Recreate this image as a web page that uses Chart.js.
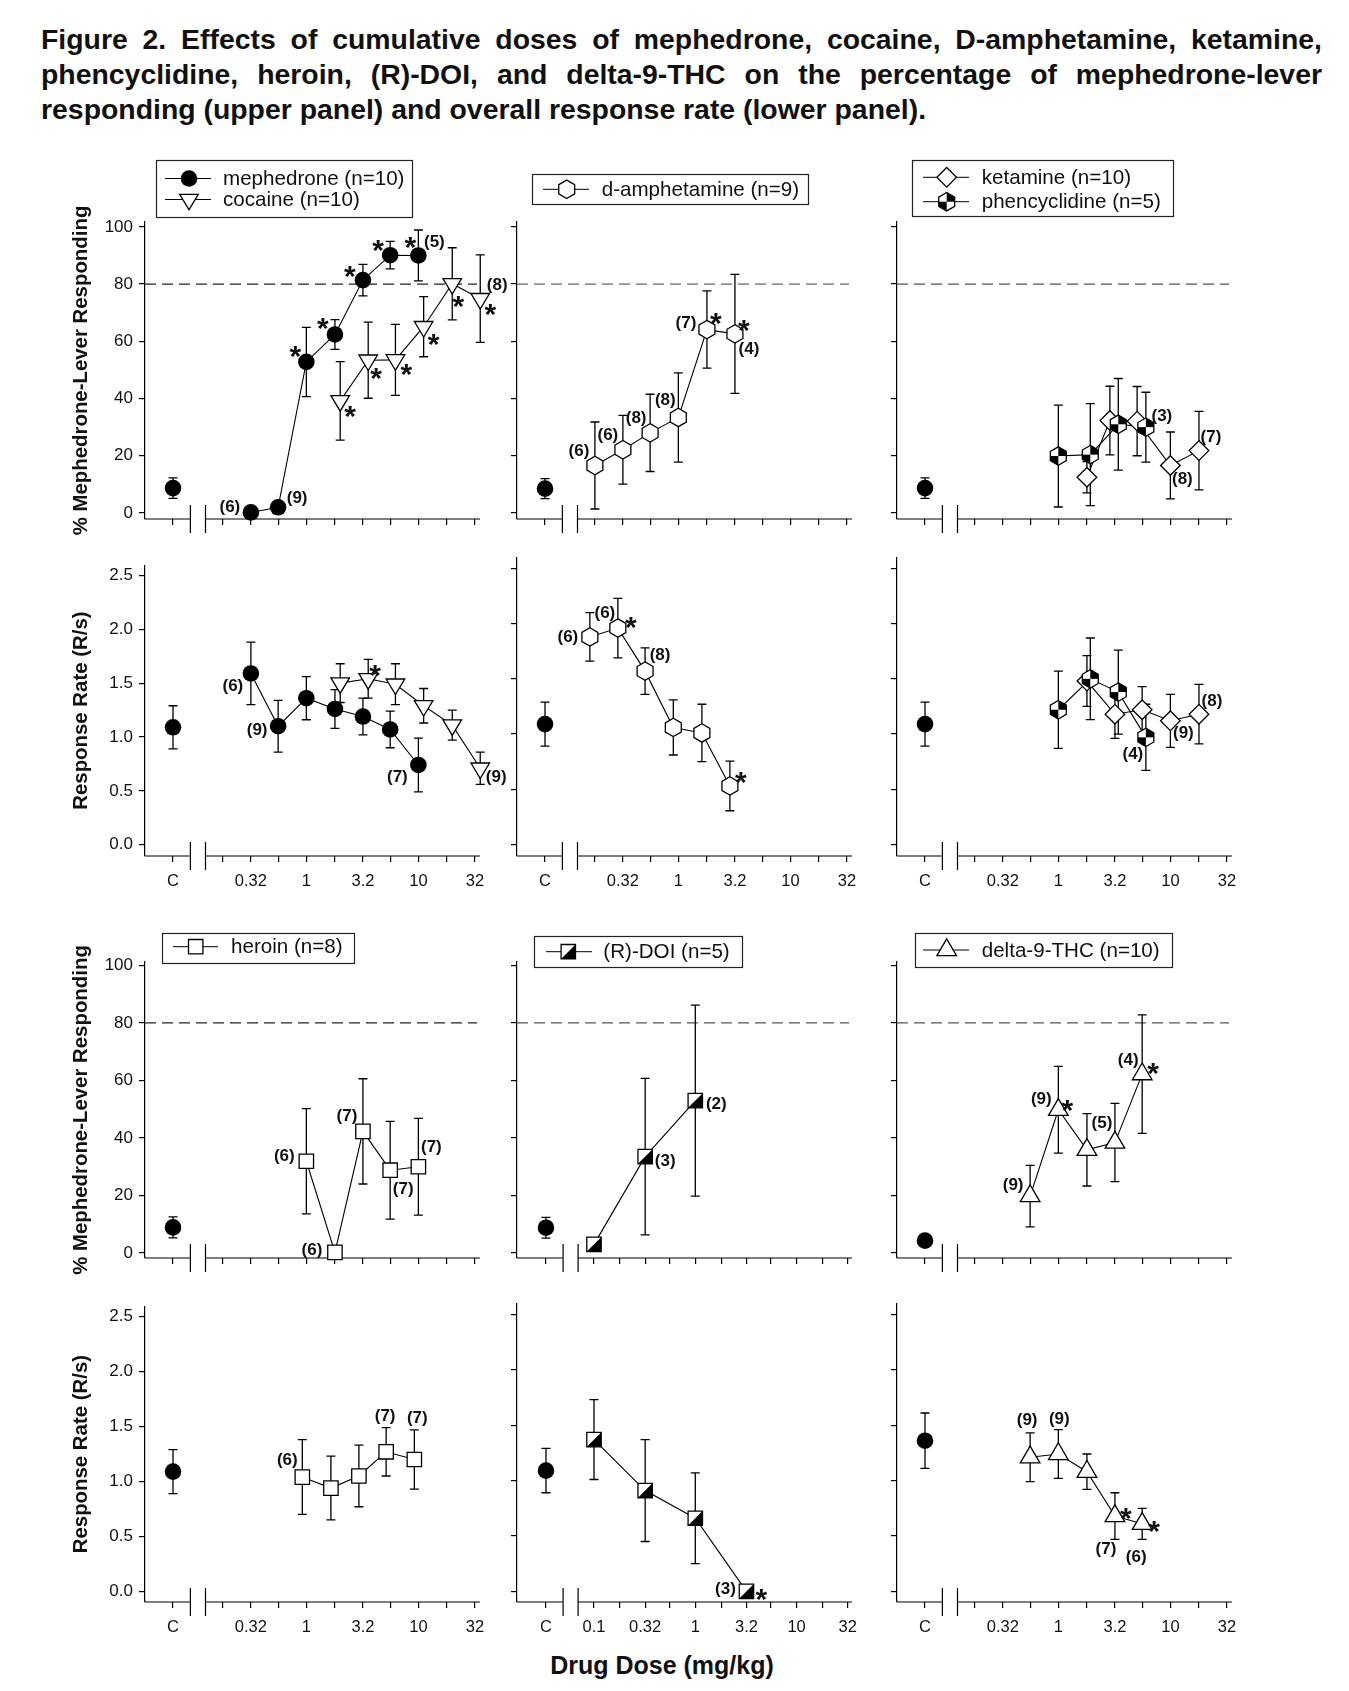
<!DOCTYPE html>
<html><head><meta charset="utf-8">
<script src="https://cdn.jsdelivr.net/npm/chart.js@4.4.1/dist/chart.umd.min.js"></script>
<style>
html,body{margin:0;padding:0;background:#fff;}
body{width:1349px;height:1691px;position:relative;overflow:hidden;font-family:"Liberation Sans",Arial,Helvetica,sans-serif;color:#111;}
#title{position:absolute;left:41px;top:22px;width:1281px;font-weight:bold;font-size:28.4px;line-height:35px;}
#title .j{text-align:justify;text-align-last:justify;}
#xlabel{position:absolute;left:462px;width:400px;top:1650px;text-align:center;font-weight:bold;font-size:25px;line-height:30px;}
canvas{position:absolute;}
</style></head><body>
<div id="title"><div class="j">Figure 2. Effects of cumulative doses of mephedrone, cocaine, D-amphetamine, ketamine,</div><div class="j">phencyclidine, heroin, (R)-DOI, and delta-9-THC on the percentage of mephedrone-lever</div><div>responding (upper panel) and overall response rate (lower panel).</div></div>
<div id="xlabel">Drug Dose (mg/kg)</div>
<script>
// ---------------- DATA ----------------
const stdTickDoses = [0.18, 0.32, 0.56, 1, 1.8, 3.2, 5.6, 10, 18, 32];
const stdTickLabels = ['C', '', '0.32', '', '1', '', '3.2', '', '10', '', '32'];
const doiTickDoses = [0.1, 0.18, 0.32, 0.56, 1, 1.8, 3.2, 5.6, 10, 18, 32];
const doiTickLabels = ['C', '0.1', '', '0.32', '', '1', '', '3.2', '', '10', '', '32'];
const pctTicks = [0, 20, 40, 60, 80, 100];
const rateTicks = [0, 0.5, 1, 1.5, 2, 2.5];
const criterionPct = 80;

// control (C) values per column: mephedrone/cocaine, amphetamine, ketamine/PCP, heroin, DOI, THC
const ctrlPct = [8.7, 8.5, 8.7, 8.9, 8.8, 4.3];
const ctrlPctErr = [3.6, 3.5, 3.6, 3.65, 3.6, 0];
const ctrlRate = [1.09, 1.09, 1.09, 1.09, 1.09, 1.36];
const ctrlRateErr = [0.20, 0.20, 0.20, 0.20, 0.20, 0.25];

const mephDose = [0.32, 0.56, 1, 1.8, 3.2, 5.6, 10];
const mephPct = [0.2, 2.0, 52.8, 62.4, 81.4, 90.1, 90.0];
const mephPctErr = [0, 0, 12.1, 5.2, 5.5, 4.8, 8.9];
const mephRate = [1.59, 1.10, 1.36, 1.26, 1.19, 1.07, 0.74];
const mephRateErr = [0.29, 0.24, 0.20, 0.18, 0.17, 0.17, 0.25];

const cocDose = [1.8, 3.2, 5.6, 10, 18, 32];
const cocPct = [39.2, 53.4, 53.5, 65.1, 80.1, 74.9];
const cocPctErr = [13.7, 13.3, 12.4, 10.5, 12.6, 15.3];
const cocRate = [1.50, 1.54, 1.49, 1.29, 1.11, 0.71];
const cocRateErr = [0.18, 0.18, 0.19, 0.16, 0.14, 0.15];

const amphDose = [0.18, 0.32, 0.56, 1, 1.8, 3.2];
const amphPct = [16.6, 22.1, 28.0, 33.4, 64.1, 62.6];
const amphPctErr = [15.2, 12.0, 13.5, 15.6, 13.5, 20.8];
const amphRate = [1.88, 1.96, 1.57, 1.06, 1.01, 0.53];
const amphRateErr = [0.22, 0.27, 0.21, 0.25, 0.26, 0.225];

const ketDose = [1.8, 3.2, 5.6, 10, 18];
const ketPct = [12.5, 32.3, 32.1, 16.6, 21.8];
const ketPctErr = [5.5, 12.0, 12.1, 11.7, 13.7];
const ketRate = [1.48, 1.18, 1.22, 1.12, 1.18];
const ketRateErr = [0.23, 0.22, 0.21, 0.24, 0.27];

const pcpDose = [1, 1.8, 3.2, 5.6];
const pcpPct = [19.9, 20.4, 31.0, 30.0];
const pcpPctErr = [17.8, 17.8, 16.0, 12.2];
const pcpRate = [1.22, 1.50, 1.38, 0.97];
const pcpRateErr = [0.35, 0.37, 0.38, 0.30];

const herDose = [1, 1.8, 3.2, 5.6, 10];
const herPct = [31.9, 0.2, 42.3, 28.8, 30.0];
const herPctErr = [18.3, 0, 18.3, 17.0, 16.8];
const herRate = [1.04, 0.94, 1.05, 1.27, 1.20];
const herRateErr = [0.34, 0.29, 0.28, 0.22, 0.27];

const doiDose = [0.1, 0.32, 1, 3.2];
const doiPct = [3.0, 33.5, 53.0];
const doiPctErr = [0, 27.2, 33.2];
const doiRate = [1.37, 0.91, 0.66, 0.0];
const doiRateErr = [0.36, 0.46, 0.41, 0];

const thcDose = [0.56, 1, 1.8, 3.2, 5.6];
const thcPct = [19.8, 49.8, 35.9, 38.4, 62.2];
const thcPctErr = [10.7, 15.1, 12.6, 13.6, 20.6];
const thcRate = [1.21, 1.24, 1.08, 0.68, 0.61];
const thcRateErr = [0.22, 0.22, 0.16, 0.21, 0.14];

// ---------------- LAYOUT / STYLE ----------------
const FONT = '"Liberation Sans", Arial, Helvetica, sans-serif';
const XSTD = {min: -1.44, max: 1.55, ctrl: -1.19, brk: [-1.035, -0.90], doses: stdTickDoses, labels: stdTickLabels};
const XDOI = {min: -1.76, max: 1.547, ctrl: -1.474, brk: [-1.305, -1.157], doses: doiTickDoses, labels: doiTickLabels};
const ROWS = {
  Au: {canvasTop: 150, top: 222, bottom: 519, yMin: -2.1, yMax: 101.7, kind: 'pct'},
  Al: {canvasTop: 549, top: 558, bottom: 856, yMin: -0.105, yMax: 2.595, kind: 'rate'},
  Bu: {canvasTop: 925, top: 962, bottom: 1258, yMin: -1.74, yMax: 101.2, kind: 'pct'},
  Bl: {canvasTop: 1290, top: 1304, bottom: 1602, yMin: -0.096, yMax: 2.594, kind: 'rate'}
};
const COLS = [145, 517, 897];
const PLOT_W = 335, AXIS_W = 85, RIGHT_PAD = 40, XAXIS_H = 50;

const PANELS = [
  {row: 'Au', col: 0, x: XSTD, ci: 0, dash: '#222',
   series: [
     {marker: 'circle', dose: mephDose, y: mephPct, e: mephPctErr,
      notes: [[0,'(6)',-21,-5],[1,'(9)',19,-9],[2,'*',-11,-13],[3,'*',-12,-13],[4,'*',-13,-11],[5,'*',-12,-12],[6,'*',-8,-15],[6,'(5)',16,-13]]},
     {marker: 'triDown', dose: cocDose, y: cocPct, e: cocPctErr, dodge: [0.047,0.047,0.047,0.047,0.047,0.047],
      notes: [[0,'*',10,8],[1,'*',8,11],[2,'*',11,7],[3,'*',10,10],[4,'*',6,15],[5,'*',10,8],[5,'(8)',17,-13]]}],
   legend: {x: 156, y: 160, w: 256, h: 57, lx: [165, 211], mx: 189, tx: 223,
     items: [{m: 'circle', label: 'mephedrone (n=10)', y: 178.5}, {m: 'triDown', label: 'cocaine (n=10)', y: 199.5}]}},
  {row: 'Al', col: 0, x: XSTD, ci: 0,
   series: [
     {marker: 'circle', dose: mephDose, y: mephRate, e: mephRateErr, notes: [[0,'(6)',-18,13],[1,'(9)',-21,4],[6,'(7)',-21,12]]},
     {marker: 'triDown', dose: cocDose, y: cocRate, e: cocRateErr, dodge: [0.047,0.047,0.047,0.047,0.047,0.047],
      notes: [[1,'*',7,-11],[5,'(9)',16,9]]}]},
  {row: 'Au', col: 1, x: XSTD, ci: 1, dash: '#666',
   series: [{marker: 'hex', dose: amphDose, y: amphPct, e: amphPctErr,
      notes: [[0,'(6)',-16,-14],[1,'(6)',-15,-14],[2,'(8)',-14,-15],[3,'(8)',-13,-17],[4,'(7)',-21,-6],[4,'*',9,-14],[5,'*',9,-11],[5,'(4)',14,15]]}],
   legend: {x: 532, y: 174, w: 276, h: 30, lx: [543, 589], mx: 566.7, tx: 601.7,
     items: [{m: 'hex', label: 'd-amphetamine (n=9)', y: 189.3}]}},
  {row: 'Al', col: 1, x: XSTD, ci: 1,
   series: [{marker: 'hex', dose: amphDose, y: amphRate, e: amphRateErr, dodge: [-0.045,-0.045,-0.045,-0.045,-0.045,-0.045],
      notes: [[0,'(6)',-22,0],[1,'(6)',-13,-15],[1,'*',13,-8],[2,'(8)',15,-16],[5,'*',11,-11]]}]},
  {row: 'Au', col: 2, x: XSTD, ci: 2, dash: '#555',
   series: [
     {marker: 'diamond', dose: ketDose, y: ketPct, e: ketPctErr, dodge: [0,-0.045,-0.045,0,0], notes: [[3,'(8)',12,14],[4,'(7)',12,-13]]},
     {marker: 'hexQuarter', dose: pcpDose, y: pcpPct, e: pcpPctErr, dodge: [0,0.03,0.03,0.033], notes: [[3,'(3)',16,-11]]}],
   legend: {x: 912, y: 160, w: 261, h: 56, lx: [923, 969], mx: 946.7, tx: 981.7,
     items: [{m: 'diamond', label: 'ketamine (n=10)', y: 177.3}, {m: 'hexQuarter', label: 'phencyclidine (n=5)', y: 201.7}]}},
  {row: 'Al', col: 2, x: XSTD, ci: 2,
   series: [
     {marker: 'diamond', dose: ketDose, y: ketRate, e: ketRateErr, notes: [[3,'(9)',13,13],[4,'(8)',13,-13]]},
     {marker: 'hexQuarter', dose: pcpDose, y: pcpRate, e: pcpRateErr, dodge: [0,0.03,0.03,0.033], notes: [[3,'(4)',-13,17]]}]},
  {row: 'Bu', col: 0, x: XSTD, ci: 3, dash: '#222',
   series: [{marker: 'square', dose: herDose, y: herPct, e: herPctErr,
      notes: [[0,'(6)',-22,-5],[1,'(6)',-23,-2],[2,'(7)',-16,-15],[3,'(7)',13,19],[4,'(7)',13,-19]]}],
   legend: {x: 162, y: 933, w: 192, h: 30, lx: [173, 218], mx: 195.7, tx: 231,
     items: [{m: 'square', label: 'heroin (n=8)', y: 946.7}]}},
  {row: 'Bl', col: 0, x: XSTD, ci: 3,
   series: [{marker: 'square', dose: herDose, y: herRate, e: herRateErr, dodge: [-0.036,-0.036,-0.036,-0.036,-0.036],
      notes: [[0,'(6)',-15,-17],[3,'(7)',-1,-35],[4,'(7)',3,-41]]}]},
  {row: 'Bu', col: 1, x: XDOI, ci: 4, dash: '#555',
   series: [{marker: 'squareHalf', dose: doiDose, y: doiPct, e: doiPctErr, notes: [[1,'(3)',20,5],[2,'(2)',21,4]]}],
   legend: {x: 534, y: 936, w: 208, h: 31, lx: [546, 592], mx: 568.3, tx: 603.3,
     items: [{m: 'squareHalf', label: '(R)-DOI (n=5)', y: 951.7}]}},
  {row: 'Bl', col: 1, x: XDOI, ci: 4,
   series: [{marker: 'squareHalf', dose: doiDose, y: doiRate, e: doiRateErr, notes: [[3,'(3)',-21,-2],[3,'*',15,1]]}]},
  {row: 'Bu', col: 2, x: XSTD, ci: 5, dash: '#555',
   series: [{marker: 'triUp', dose: thcDose, y: thcPct, e: thcPctErr,
      notes: [[0,'(9)',-17,-11],[1,'(9)',-17,-10],[1,'*',9,-7],[3,'(5)',-13,-19],[4,'(4)',-14,-14],[4,'*',11,-8]]}],
   legend: {x: 915, y: 933, w: 257, h: 34, lx: [923, 969], mx: 946.7, tx: 981.7,
     items: [{m: 'triUp', label: 'delta-9-THC (n=10)', y: 950}]}},
  {row: 'Bl', col: 2, x: XSTD, ci: 5,
   series: [{marker: 'triUp', dose: thcDose, y: thcRate, e: thcRateErr,
      notes: [[0,'(9)',-3,-37],[1,'(9)',1,-35],[3,'*',11,-5],[3,'(7)',-9,33],[4,'*',12,0],[4,'(6)',-6,34]]}]}
];

// ---------------- DRAWING HELPERS ----------------
function drawMarker(ctx, type, x, y) {
  ctx.save();
  ctx.lineWidth = 1.3; ctx.strokeStyle = '#000'; ctx.fillStyle = '#fff'; ctx.lineJoin = 'miter';
  const path = (pts) => { ctx.beginPath(); pts.forEach((q, i) => i ? ctx.lineTo(x + q[0], y + q[1]) : ctx.moveTo(x + q[0], y + q[1])); ctx.closePath(); };
  const hex = (r) => { const pts = []; for (let k = 0; k < 6; k++) { const a = -Math.PI / 2 + k * Math.PI / 3; pts.push([r * Math.cos(a), r * Math.sin(a)]); } return pts; };
  const h = 7.2;
  const sq = [[-h, -h], [h, -h], [h, h], [-h, h]];
  if (type === 'circle') { ctx.beginPath(); ctx.arc(x, y, 8.3, 0, Math.PI * 2); ctx.fillStyle = '#000'; ctx.fill(); }
  else if (type === 'triDown') { path([[-9.3, -5.2], [9.3, -5.2], [0, 10.3]]); ctx.fill(); ctx.stroke(); }
  else if (type === 'triUp') { path([[0, -11.2], [9.8, 5.6], [-9.8, 5.6]]); ctx.fill(); ctx.stroke(); }
  else if (type === 'hex') { path(hex(9.2)); ctx.fill(); ctx.stroke(); }
  else if (type === 'diamond') { path([[0, -9.8], [9.8, 0], [0, 9.8], [-9.8, 0]]); ctx.fill(); ctx.stroke(); }
  else if (type === 'square') { path(sq); ctx.fill(); ctx.stroke(); }
  else if (type === 'squareHalf') {
    path(sq); ctx.fill();
    path([[h, -h], [h, h], [-h, h]]); ctx.fillStyle = '#000'; ctx.fill();
    path(sq); ctx.stroke();
  } else if (type === 'hexQuarter') {
    path(hex(9.2)); ctx.fill();
    ctx.save(); path(hex(9.2)); ctx.clip(); ctx.fillStyle = '#000';
    ctx.fillRect(x, y - 11, 11, 11); ctx.fillRect(x - 11, y, 11, 11); ctx.restore();
    path(hex(9.2)); ctx.stroke();
  }
  ctx.restore();
}

function drawNote(ctx, text, x, y) {
  ctx.save(); ctx.fillStyle = '#111'; ctx.textAlign = 'center';
  if (text === '*') { ctx.font = 'bold 30px ' + FONT; ctx.textBaseline = 'alphabetic'; ctx.fillText('*', x, y + 17); }
  else { ctx.font = 'bold 17px ' + FONT; ctx.textBaseline = 'middle'; ctx.fillText(text, x, y); }
  ctx.restore();
}

function decorPlugin(p, cLeft, cTop) {
  return {
    id: 'decor',
    beforeDatasetsDraw(chart) {
      const {ctx, chartArea: a, scales: {x, y}} = chart;
      ctx.save();
      ctx.strokeStyle = '#000'; ctx.lineWidth = 1.2;
      const yb = a.bottom;
      const b1 = x.getPixelForValue(p.x.brk[0]), b2 = x.getPixelForValue(p.x.brk[1]);
      ctx.beginPath();
      ctx.moveTo(a.left, yb); ctx.lineTo(b1, yb); ctx.moveTo(b2, yb); ctx.lineTo(a.right, yb);
      ctx.moveTo(b1, yb - 14); ctx.lineTo(b1, yb + 14); ctx.moveTo(b2, yb - 14); ctx.lineTo(b2, yb + 14);
      ctx.stroke();
      if (p.dash) {
        const yc = y.getPixelForValue(criterionPct);
        ctx.save(); ctx.strokeStyle = p.dash; ctx.lineWidth = 1.3; ctx.setLineDash([11, 6]);
        ctx.beginPath(); ctx.moveTo(a.left, yc); ctx.lineTo(a.right - 3, yc); ctx.stroke(); ctx.restore();
      }
      // error bars
      ctx.lineWidth = 1.3; ctx.strokeStyle = '#000';
      chart.data.datasets.forEach((ds, i) => {
        const meta = chart.getDatasetMeta(i);
        meta.data.forEach((pt, j) => {
          const e = ds.err[j]; if (!e) return;
          const v = ds.data[j].y;
          const y1 = y.getPixelForValue(v + e), y2 = y.getPixelForValue(v - e);
          ctx.beginPath();
          ctx.moveTo(pt.x, y1); ctx.lineTo(pt.x, y2);
          ctx.moveTo(pt.x - 4.5, y1); ctx.lineTo(pt.x + 4.5, y1);
          ctx.moveTo(pt.x - 4.5, y2); ctx.lineTo(pt.x + 4.5, y2);
          ctx.stroke();
        });
      });
      ctx.restore();
    },
    afterDatasetsDraw(chart) {
      const {ctx} = chart;
      chart.data.datasets.forEach((ds, i) => {
        const meta = chart.getDatasetMeta(i);
        meta.data.forEach((pt) => drawMarker(ctx, ds.marker, pt.x, pt.y));
      });
      chart.data.datasets.forEach((ds, i) => {
        const meta = chart.getDatasetMeta(i);
        (ds.notes || []).forEach(n => { const pt = meta.data[n[0]]; drawNote(ctx, n[1], pt.x + n[2], pt.y + n[3]); });
      });
    },
    afterDraw(chart) {
      const L = p.legend; if (!L) return;
      const ctx = chart.ctx;
      ctx.save();
      ctx.strokeStyle = '#222'; ctx.lineWidth = 1.2;
      ctx.strokeRect(L.x - cLeft + 0.5, L.y - cTop + 0.5, L.w, L.h);
      L.items.forEach(it => {
        const yy = it.y - cTop;
        ctx.beginPath(); ctx.lineWidth = 1; ctx.strokeStyle = '#000';
        ctx.moveTo(L.lx[0] - cLeft, yy); ctx.lineTo(L.lx[1] - cLeft, yy); ctx.stroke();
        drawMarker(ctx, it.m, L.mx - cLeft, yy);
        ctx.fillStyle = '#111'; ctx.font = '20.6px ' + FONT; ctx.textBaseline = 'middle'; ctx.textAlign = 'left';
        ctx.fillText(it.label, L.tx - cLeft, yy + 1);
      });
      ctx.restore();
    }
  };
}

function makeChart(p) {
  const row = ROWS[p.row], xc = p.x, left = COLS[p.col];
  const isPct = row.kind === 'pct';
  const cLeft = left - AXIS_W, cTop = row.canvasTop;
  const W = AXIS_W + PLOT_W + RIGHT_PAD, H = row.bottom - cTop + XAXIS_H;
  const cv = document.createElement('canvas');
  cv.width = W; cv.height = H; cv.style.left = cLeft + 'px'; cv.style.top = cTop + 'px';
  cv.style.width = W + 'px'; cv.style.height = H + 'px';
  document.body.appendChild(cv);
  const showX = !isPct, showY = p.col === 0;
  const ctrlY = isPct ? ctrlPct[p.ci] : ctrlRate[p.ci];
  const ctrlE = isPct ? ctrlPctErr[p.ci] : ctrlRateErr[p.ci];
  const datasets = [{data: [{x: xc.ctrl, y: ctrlY}], err: [ctrlE], marker: 'circle', notes: [],
    showLine: false, pointRadius: 0, borderWidth: 0, clip: false}];
  p.series.forEach(s => {
    datasets.push({
      data: s.y.map((v, i) => ({x: Math.log10(s.dose[i]) + (s.dodge ? s.dodge[i] : 0), y: v})),
      err: s.e, marker: s.marker, notes: s.notes || [],
      showLine: true, borderColor: '#000', borderWidth: 1.1, pointRadius: 0, tension: 0, clip: false, fill: false
    });
  });
  const tickVals = [xc.ctrl].concat(xc.doses.map(d => Math.log10(d)));
  const yTicks = isPct ? pctTicks : rateTicks;
  new Chart(cv, {
    type: 'line',
    data: {datasets},
    options: {
      responsive: false, animation: false, events: [], devicePixelRatio: window.devicePixelRatio || 1,
      layout: {padding: {top: row.top - cTop, right: RIGHT_PAD, bottom: 0, left: 0}},
      plugins: {legend: {display: false}, tooltip: {enabled: false}, title: {display: false}},
      scales: {
        x: {
          type: 'linear', min: xc.min, max: xc.max,
          afterFit(s) { s.height = XAXIS_H; },
          afterBuildTicks(s) { s.ticks = tickVals.map(v => ({value: v})); },
          ticks: {display: showX, autoSkip: false, maxRotation: 0, minRotation: 0, padding: 10, color: '#111',
            font: {family: FONT, size: 16.5}, callback: (v, i) => xc.labels[i]},
          grid: {display: true, drawOnChartArea: false, drawTicks: true, tickLength: 6, color: '#000', lineWidth: 1.2},
          border: {display: false}
        },
        y: {
          type: 'linear', min: row.yMin, max: row.yMax,
          afterFit(s) { s.width = AXIS_W; },
          afterBuildTicks(s) { s.ticks = yTicks.map(v => ({value: v})); },
          ticks: {display: showY, padding: 6, color: '#111', font: {family: FONT, size: 17},
            callback: v => isPct ? String(v) : v.toFixed(1)},
          grid: {display: true, drawOnChartArea: false, drawTicks: true, tickLength: 6, color: '#000', lineWidth: 1.2},
          border: {display: true, color: '#000', width: 1.2},
          title: {display: showY, text: isPct ? '% Mephedrone-Lever Responding' : 'Response Rate (R/s)',
            color: '#111', font: {family: FONT, size: 20.4, weight: 'bold'}, padding: {top: 9, bottom: 0}}
        }
      }
    },
    plugins: [decorPlugin(p, cLeft, cTop)]
  });
}

PANELS.forEach(makeChart);
</script>
</body></html>
